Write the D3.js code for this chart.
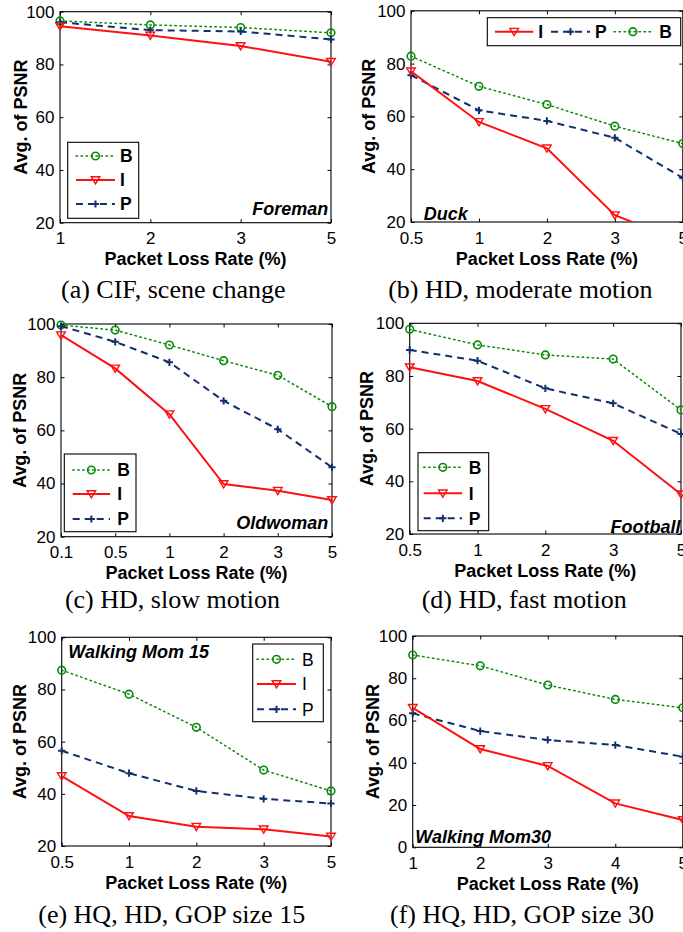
<!DOCTYPE html>
<html><head><meta charset="utf-8">
<script src="https://cdn.jsdelivr.net/npm/d3@7"></script>
<style>body{margin:0;background:#fff} svg{display:block}</style>
</head><body>
<svg id="c" width="683" height="932"></svg>
<script>
// ---------- data ----------
const seriesNames = ["B", "I", "P"];
const xA = ["1", "2", "3", "5"];
const aB = [96.5, 95, 94, 92], aI = [94.5, 91, 87, 81], aP = [96, 93, 92.5, 89.5];
const xB = ["0.5", "1", "2", "3", "5"];
const bB = [82.8, 71.4, 64.5, 56.3, 49.7], bI = [77.1, 57.9, 47.9, 22.6, 12.4], bP = [75.6, 62.3, 58.3, 51.9, 36.7];
const xC = ["0.1", "0.5", "1", "2", "3", "5"];
const cB = [99.6, 97.7, 92.1, 86.2, 80.7, 68.9], cI = [95.8, 83.3, 66.1, 39.8, 37.3, 33.8], cP = [99.2, 93.3, 85.6, 71.1, 60.4, 46.1];
const xD = ["0.5", "1", "2", "3", "5"];
const dB = [97.7, 91.8, 88, 86.4, 67.1], dI = [83.3, 78.1, 67.5, 55.4, 35.1], dP = [89.9, 85.8, 75.3, 69.6, 58];
const xE = ["0.5", "1", "2", "3", "5"];
const eB = [87.4, 78.2, 65.5, 49.1, 41.1], eI = [46.8, 31.5, 27.4, 26.4, 23.6], eP = [56.5, 47.9, 41.1, 38.1, 36.3];
const xF = ["1", "2", "3", "4", "5"];
const fB = [91, 85.9, 76.8, 70, 66], fI = [66, 46.5, 38.5, 20.8, 12.9], fP = [63.4, 55, 50.8, 48.4, 42.9];
const yTicks20 = [20, 40, 60, 80, 100];
const yTicks0 = [0, 20, 40, 60, 80, 100];
const panelNames = ["Foreman", "Duck", "Oldwoman", "Football", "Walking Mom 15", "Walking Mom30"];
const captions = ["(a) CIF, scene change", "(b) HD, moderate motion", "(c) HD, slow motion",
  "(d) HD, fast motion", "(e) HQ, HD, GOP size 15", "(f) HQ, HD, GOP size 30"];
const xTitle = "Packet Loss Rate (%)";
const yTitle = "Avg. of PSNR";

// ---------- styles ----------
const SANS = "'Liberation Sans', Arial, Helvetica, sans-serif";
const SERIF = "'Liberation Serif', 'Times New Roman', serif";
const style = {
  B: {color: "#0a8a0a", dash: "1.5,3.5", width: 1.5, marker: "circle"},
  I: {color: "#ff1010", dash: null, width: 2, marker: "tri"},
  P: {color: "#132f6e", dash: "7,5", width: 2, marker: "plus"}
};

// ---------- layout ----------
const panels = [
  {cats: xA, vals: {B: aB, I: aI, P: aP}, yt: yTicks20, ydom: [20, 100], L: 60, R: 331, T: 11.7, Bo: 222.7,
   ylabX: 27.3, nameX: 328.3, nameY: 214.5, nameAnchor: "end", capX: 173.3, capY: 298,
   legend: {type: "v", x0: 67.7, x1: 138.7, y0: 142.3, y1: 218.3, order: ["B", "I", "P"], rows: [156, 180, 204], l0: 76, l1: 115, tx: 120, bold: true}},
  {cats: xB, vals: {B: bB, I: bI, P: bP}, yt: yTicks20, ydom: [20, 100], L: 411, R: 682.8, T: 10.8, Bo: 222,
   ylabX: 375, nameX: 423.7, nameY: 219.5, nameAnchor: "start", capX: 520.3, capY: 298,
   legend: {type: "h", x0: 487.3, x1: 680.7, y0: 17.7, y1: 45.7, row: 31.7,
     items: [{k: "I", l0: 495, l1: 533.3, tx: 538.3}, {k: "P", l0: 551, l1: 590, tx: 595}, {k: "B", l0: 614, l1: 651.7, tx: 659.3}], bold: true}},
  {cats: xC, vals: {B: cB, I: cI, P: cP}, yt: yTicks20, ydom: [20, 100], L: 61, R: 332, T: 324, Bo: 536.7,
   ylabX: 26, nameX: 328.3, nameY: 528.5, nameAnchor: "end", capX: 172.5, capY: 607.5,
   legend: {type: "v", x0: 64.3, x1: 136, y0: 454, y1: 531.7, order: ["B", "I", "P"], rows: [470, 494, 519], l0: 72.7, l1: 110, tx: 117.3, bold: true}},
  {cats: xD, vals: {B: dB, I: dI, P: dP}, yt: yTicks20, ydom: [20, 100], L: 409.7, R: 681, T: 323.3, Bo: 534,
   ylabX: 372.7, nameX: 680.5, nameY: 532.5, nameAnchor: "end", capX: 524.2, capY: 607.5,
   legend: {type: "v", x0: 418, x1: 488.7, y0: 452.7, y1: 530.7, order: ["B", "I", "P"], rows: [467.3, 493.3, 518.3], l0: 423.7, l1: 462, tx: 468.7, bold: true}},
  {cats: xE, vals: {B: eB, I: eI, P: eP}, yt: yTicks20, ydom: [20, 100], L: 61.7, R: 331, T: 637.3, Bo: 846,
   ylabX: 26, nameX: 68.3, nameY: 658.3, nameAnchor: "start", capX: 171.7, capY: 922.5,
   legend: {type: "v", x0: 252.7, x1: 323.3, y0: 644, y1: 721.7, order: ["B", "I", "P"], rows: [659.3, 684, 709.3], l0: 257, l1: 296, tx: 302, bold: false}},
  {cats: xF, vals: {B: fB, I: fI, P: fP}, yt: yTicks0, ydom: [0, 100], L: 412.7, R: 682.8, T: 636, Bo: 847.3,
   ylabX: 379.3, nameX: 415.3, nameY: 842.7, nameAnchor: "start", capX: 522, capY: 922.5,
   legend: null}
];

const svg = d3.select("#c");

function drawMarker(g, type, x, y, color) {
  if (type === "circle") {
    g.append("circle").attr("cx", x).attr("cy", y).attr("r", 3.8)
      .attr("fill", "none").attr("stroke", color).attr("stroke-width", 1.6);
  } else if (type === "tri") {
    g.append("path").attr("d", `M${x - 4.3},${y - 3.3}L${x + 4.3},${y - 3.3}L${x},${y + 3.9}Z`)
      .attr("fill", "none").attr("stroke", color).attr("stroke-width", 1.4).attr("stroke-linejoin", "miter");
  } else {
    g.append("path").attr("d", `M${x - 3.6},${y}H${x + 3.6}M${x},${y - 3.6}V${y + 3.6}`)
      .attr("fill", "none").attr("stroke", color).attr("stroke-width", 2);
  }
}

panels.forEach((p, i) => {
  const x = d3.scalePoint().domain(p.cats).range([p.L, p.R]);
  const y = d3.scaleLinear().domain(p.ydom).range([p.Bo, p.T]);
  const g = svg.append("g");
  const clipId = "clip" + i;
  svg.append("clipPath").attr("id", clipId).append("rect")
    .attr("x", p.L).attr("y", p.T).attr("width", p.R - p.L).attr("height", p.Bo - p.T);

  // axes (ticks inward on all four sides)
  const ax = [
    d3.axisBottom(x).tickSizeInner(-3.5).tickSizeOuter(0).tickPadding(9.5),
    d3.axisTop(x).tickSizeInner(-3.5).tickSizeOuter(0).tickFormat(""),
    d3.axisLeft(y).tickValues(p.yt).tickSizeInner(-3.5).tickSizeOuter(0).tickPadding(5.5).tickFormat(d3.format("d")),
    d3.axisRight(y).tickValues(p.yt).tickSizeInner(-3.5).tickSizeOuter(0).tickFormat("")
  ];
  const tr = [`translate(0,${p.Bo})`, `translate(0,${p.T})`, `translate(${p.L},0)`, `translate(${p.R},0)`];
  ax.forEach((a, k) => {
    const ag = g.append("g").attr("transform", tr[k]).call(a);
    ag.select(".domain").remove();
    ag.selectAll(".tick line").attr("stroke", "#000").attr("stroke-width", 1);
    ag.selectAll(".tick text").attr("fill", "#000").style("font-family", SANS).style("font-size", "17px");
  });
  g.append("rect").attr("x", p.L).attr("y", p.T).attr("width", p.R - p.L).attr("height", p.Bo - p.T)
    .attr("fill", "none").attr("stroke", "#000").attr("stroke-width", 1.1);

  // series
  const order = ["B", "P", "I"];
  order.forEach(k => {
    const st = style[k];
    const data = p.cats.map((c, j) => ({c, v: p.vals[k][j]}));
    const line = d3.line().x(d => x(d.c)).y(d => y(d.v));
    g.append("path").datum(data).attr("d", line).attr("clip-path", `url(#${clipId})`)
      .attr("fill", "none").attr("stroke", st.color).attr("stroke-width", st.width)
      .attr("stroke-dasharray", st.dash).attr("stroke-linecap", st.dash && k === "B" ? "round" : "butt");
    data.filter(d => d.v >= p.ydom[0] && d.v <= p.ydom[1])
      .forEach(d => drawMarker(g, st.marker, x(d.c), y(d.v), st.color));
  });

  // titles
  g.append("text").attr("x", (p.L + p.R) / 2).attr("y", p.Bo + 42.5).attr("text-anchor", "middle")
    .style("font-family", SANS).style("font-weight", "bold").style("font-size", "18px").text(xTitle);
  g.append("text").attr("transform", `translate(${p.ylabX},${(p.T + p.Bo) / 2}) rotate(-90)`)
    .attr("text-anchor", "middle").style("font-family", SANS).style("font-weight", "bold")
    .style("font-size", "18px").text(yTitle);
  g.append("text").attr("x", p.nameX).attr("y", p.nameY).attr("text-anchor", p.nameAnchor)
    .style("font-family", SANS).style("font-weight", "bold").style("font-style", "italic")
    .style("font-size", "18px").text(panelNames[i]);
  g.append("text").attr("x", p.capX).attr("y", p.capY).attr("text-anchor", "middle")
    .style("font-family", SERIF).style("font-size", "26px").text(captions[i]);

  // legend
  const lg = p.legend;
  if (lg) {
    const lgG = svg.append("g");
    lgG.append("rect").attr("x", lg.x0).attr("y", lg.y0).attr("width", lg.x1 - lg.x0).attr("height", lg.y1 - lg.y0)
      .attr("fill", "#fff").attr("stroke", "#000").attr("stroke-width", 1.1);
    const items = lg.type === "v"
      ? lg.order.map((k, j) => ({k, l0: lg.l0, l1: lg.l1, tx: lg.tx, y: lg.rows[j]}))
      : lg.items.map(it => Object.assign({y: lg.row}, it));
    items.forEach(it => {
      const st = style[it.k];
      lgG.append("path").attr("d", `M${it.l0},${it.y}H${it.l1}`).attr("stroke", st.color)
        .attr("stroke-width", st.width).attr("stroke-dasharray", st.dash).attr("fill", "none")
        .attr("stroke-linecap", it.k === "B" ? "round" : "butt");
      drawMarker(lgG, st.marker, (it.l0 + it.l1) / 2, it.y, st.color);
      lgG.append("text").attr("x", it.tx).attr("y", it.y).attr("dy", "0.36em")
        .style("font-family", SANS).style("font-weight", lg.bold ? "bold" : "normal").style("font-size", "17.5px")
        .text(it.k);
    });
  }
});
</script>
</body></html>
